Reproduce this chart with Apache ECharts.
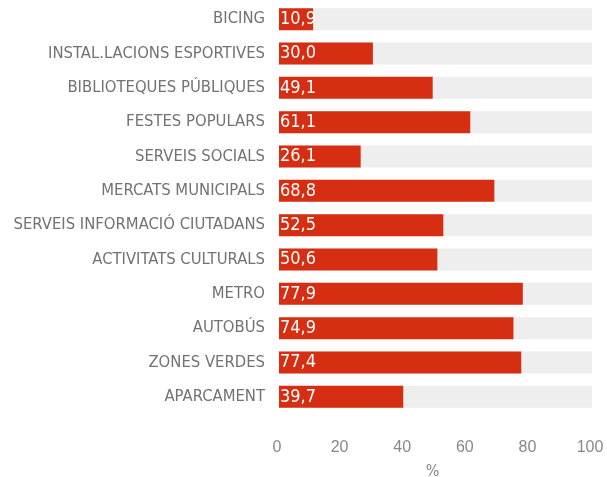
<!DOCTYPE html>
<html>
<head>
<meta charset="utf-8">
<title>Serveis</title>
<script src="https://cdn.jsdelivr.net/npm/echarts@6/dist/echarts.min.js"></script>
<style>
  html, body { margin: 0; padding: 0; background: #fff; }
  #main { width: 607px; height: 477px; }
</style>
</head>
<body>
<div id="main"></div>
<script type="text/javascript">
// categories, top to bottom
var categories = ['BICING', 'INSTAL.LACIONS ESPORTIVES', 'BIBLIOTEQUES PÚBLIQUES', 'FESTES POPULARS',
  'SERVEIS SOCIALS', 'MERCATS MUNICIPALS', 'SERVEIS INFORMACIÓ CIUTADANS', 'ACTIVITATS CULTURALS',
  'METRO', 'AUTOBÚS', 'ZONES VERDES', 'APARCAMENT'];
var values = [10.9, 30.0, 49.1, 61.1, 26.1, 68.8, 52.5, 50.6, 77.9, 74.9, 77.4, 39.7];
var xTicks = [0, 20, 40, 60, 80, 100];

var font = '"Liberation Sans Narrow", "DejaVu Sans Condensed", "Roboto", sans-serif';

var myChart = echarts.init(document.getElementById('main'));
var option = {
    animation: false,
    grid: { left: 279, right: 15, top: 2, bottom: 63, outerBoundsMode: 'none', containLabel: false },
    xAxis: {
        type: 'value',
        min: xTicks[0],
        max: xTicks[xTicks.length - 1],
        interval: 20,
        splitLine: { show: false },
        axisLine: { show: false },
        axisTick: { show: false },
        axisLabel: { color: '#888', fontSize: 16, fontFamily: '"Liberation Sans", sans-serif', margin: 26, padding: [0, 4, 0, 0] },
        name: '%',
        nameLocation: 'middle',
        nameGap: 50,
        nameTextStyle: { color: '#888', fontSize: 16, fontFamily: font, padding: [0, 6, 0, 0] }
    },
    yAxis: {
        type: 'category',
        data: categories,
        inverse: true,
        axisLine: { show: false },
        axisTick: { show: false },
        axisLabel: { color: '#727272', fontSize: 16.5, fontFamily: font, margin: 14 }
    },
    series: [{
        type: 'bar',
        data: values,
        barWidth: 22,
        itemStyle: { color: '#d52e12' },
        showBackground: true,
        backgroundStyle: { color: '#eeeeee' },
        label: {
            show: true,
            position: 'insideLeft',
            distance: 1,
            color: '#fff',
            fontSize: 18,
            fontFamily: font,
            formatter: function (p) { return p.value.toFixed(1).replace('.', ','); }
        }
    }]
};
myChart.setOption(option);
</script>
</body>
</html>
